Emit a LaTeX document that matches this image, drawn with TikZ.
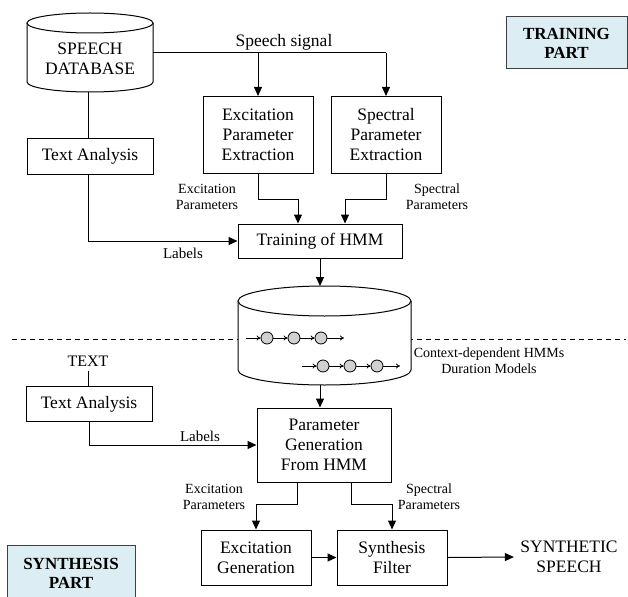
\documentclass[tikz,border=0pt]{standalone}
\usepackage{fontspec}
\setmainfont{Liberation Serif}
\usetikzlibrary{arrows.meta,calc}
\begin{document}
\begin{tikzpicture}[x=1pt,y=-1pt,
  line width=1pt,
  arr/.style={-{Triangle[length=9pt,width=8pt]}},
  sarr/.style={-{To[length=4pt,width=5pt]},line width=0.8pt},
  box/.style={draw,fill=white,align=center,inner sep=0pt,font=\fontsize{17.5}{20}\selectfont},
  lbl/.style={align=center,inner sep=0pt,font=\fontsize{14}{16}\selectfont},
  mtxt/.style={align=center,inner sep=0pt,font=\fontsize{17.5}{20}\selectfont},
  part/.style={draw=black!75,fill=partblue,align=center,inner sep=0pt,font=\fontsize{17}{19}\selectfont\bfseries},
  st/.style={circle,draw,fill=black!18,minimum size=12pt,inner sep=0pt,line width=0.8pt}]
\definecolor{partblue}{HTML}{DCEEF4}
\useasboundingbox (0,0) rectangle (628,596);

% dashed separator
\coordinate (dl) at (12,339);
\coordinate (dr) at (626,339);
\draw[dashed,dash pattern=on 5pt off 4pt] (dl) -- (dr);

% ---------- training part ----------
% speech database cylinder
\draw[fill=white] (27,23) -- (27,82) arc[start angle=180,end angle=360,x radius=63pt,y radius=10pt] -- (153,23);
\draw[fill=white] (90,23) ellipse [x radius=63pt,y radius=10pt];
\node[mtxt] (db) at (90,59) {SPEECH\\DATABASE};
\coordinate (dbE) at (153,53);
\coordinate (dbS) at (88,92);

\node[box,minimum width=110pt,minimum height=77pt] (exc) at (258,135) {Excitation\\Parameter\\Extraction};
\node[box,minimum width=110pt,minimum height=77pt] (spec) at (386,135) {Spectral\\Parameter\\Extraction};
\node[box,minimum width=126pt,minimum height=35pt] (ta1) at (90,156.5) {Text Analysis};
\node[box,minimum width=164pt,minimum height=34pt] (train) at (320,241) {Training of HMM};

\node[mtxt] (sig) at (284,42) {Speech signal};
\node[lbl] (ep1) at (207,197) {Excitation\\Parameters};
\node[lbl] (sp1) at (437,197) {Spectral\\Parameters};
\node[lbl,font=\fontsize{15}{17}\selectfont] (lab1) at (183,253) {Labels};

\node[part,minimum width=121pt,minimum height=52pt] (tp) at (566.5,43) {TRAINING\\PART};

\draw (dbE) -- (dbE -| spec.north);
\draw[arr] (dbE -| spec.north) -- (spec.north);
\draw[arr] (dbE -| exc.north) -- (exc.north);
\draw (dbS) -- (dbS |- ta1.north);
\draw[arr] (ta1.south -| dbS) |- (train.west);
\draw[arr] (exc.south) -- ++(0,25) -| ([xshift=-22pt]train.north);
\draw[arr] (spec.south) -- ++(0,25) -| ([xshift=25pt]train.north);

% HMM cylinder
\draw[fill=white] (238,301) -- (238,370) arc[start angle=180,end angle=360,x radius=86.5pt,y radius=15pt] -- (411,301);
\draw[fill=white] (324.5,301) ellipse [x radius=86.5pt,y radius=15pt];
\coordinate (hmT) at (320,286);
\coordinate (hmB) at (320,385);
\draw[arr] (train.south) -- (hmT);

% chains
\coordinate (a0) at (246,338);
\node[st] (a1) at (267,338) {};
\node[st] (a2) at (294,338) {};
\node[st] (a3) at (321,338) {};
\coordinate (a4) at (344,338);
\draw[sarr] (a0) -- (a1);
\draw[sarr] (a1) -- (a2);
\draw[sarr] (a2) -- (a3);
\draw[sarr] (a3) -- (a4);
\coordinate (b0) at (302,366);
\node[st] (b1) at (323,366) {};
\node[st] (b2) at (350,366) {};
\node[st] (b3) at (377,366) {};
\coordinate (b4) at (400,366);
\draw[sarr] (b0) -- (b1);
\draw[sarr] (b1) -- (b2);
\draw[sarr] (b2) -- (b3);
\draw[sarr] (b3) -- (b4);
\node[lbl] (ctx) at (489,361) {Context-dependent HMMs\\Duration Models};

% ---------- synthesis part ----------
\node[mtxt,font=\fontsize{16}{19}\selectfont] (txt) at (88,361) {TEXT};
\node[box,minimum width=126pt,minimum height=35pt] (ta2) at (89,404) {Text Analysis};
\node[box,minimum width=134pt,minimum height=74pt] (pg) at (324,445) {Parameter\\Generation\\From HMM};
\node[lbl,font=\fontsize{15}{17}\selectfont] (lab2) at (200,436) {Labels};
\node[lbl] (ep2) at (214,497) {Excitation\\Parameters};
\node[lbl] (sp2) at (429,497) {Spectral\\Parameters};
\node[box,minimum width=110pt,minimum height=55pt] (eg) at (256,557.5) {Excitation\\Generation};
\node[box,minimum width=110pt,minimum height=55pt] (sf) at (392,557.5) {Synthesis\\Filter};
\node[mtxt,inner sep=6pt] (ss) at (569,557) {SYNTHETIC\\SPEECH};
\node[part,minimum width=128pt,minimum height=56pt] (sp) at (71,573) {SYNTHESIS\\PART};

\draw[arr] (hmB) -- (hmB |- pg.north);
\draw ([yshift=-4pt]txt.south) -- (txt.south |- ta2.north);
\draw[arr] (ta2.south) |- (pg.west);
\draw[arr] ([xshift=-27pt]pg.south) -- ++(0,22) -| (eg.north);
\draw[arr] ([xshift=27pt]pg.south) -- ++(0,22) -| (sf.north);
\draw[arr] (eg.east) -- (sf.west);
\draw[arr] (sf.east) -- (ss.west);
\end{tikzpicture}
\end{document}
